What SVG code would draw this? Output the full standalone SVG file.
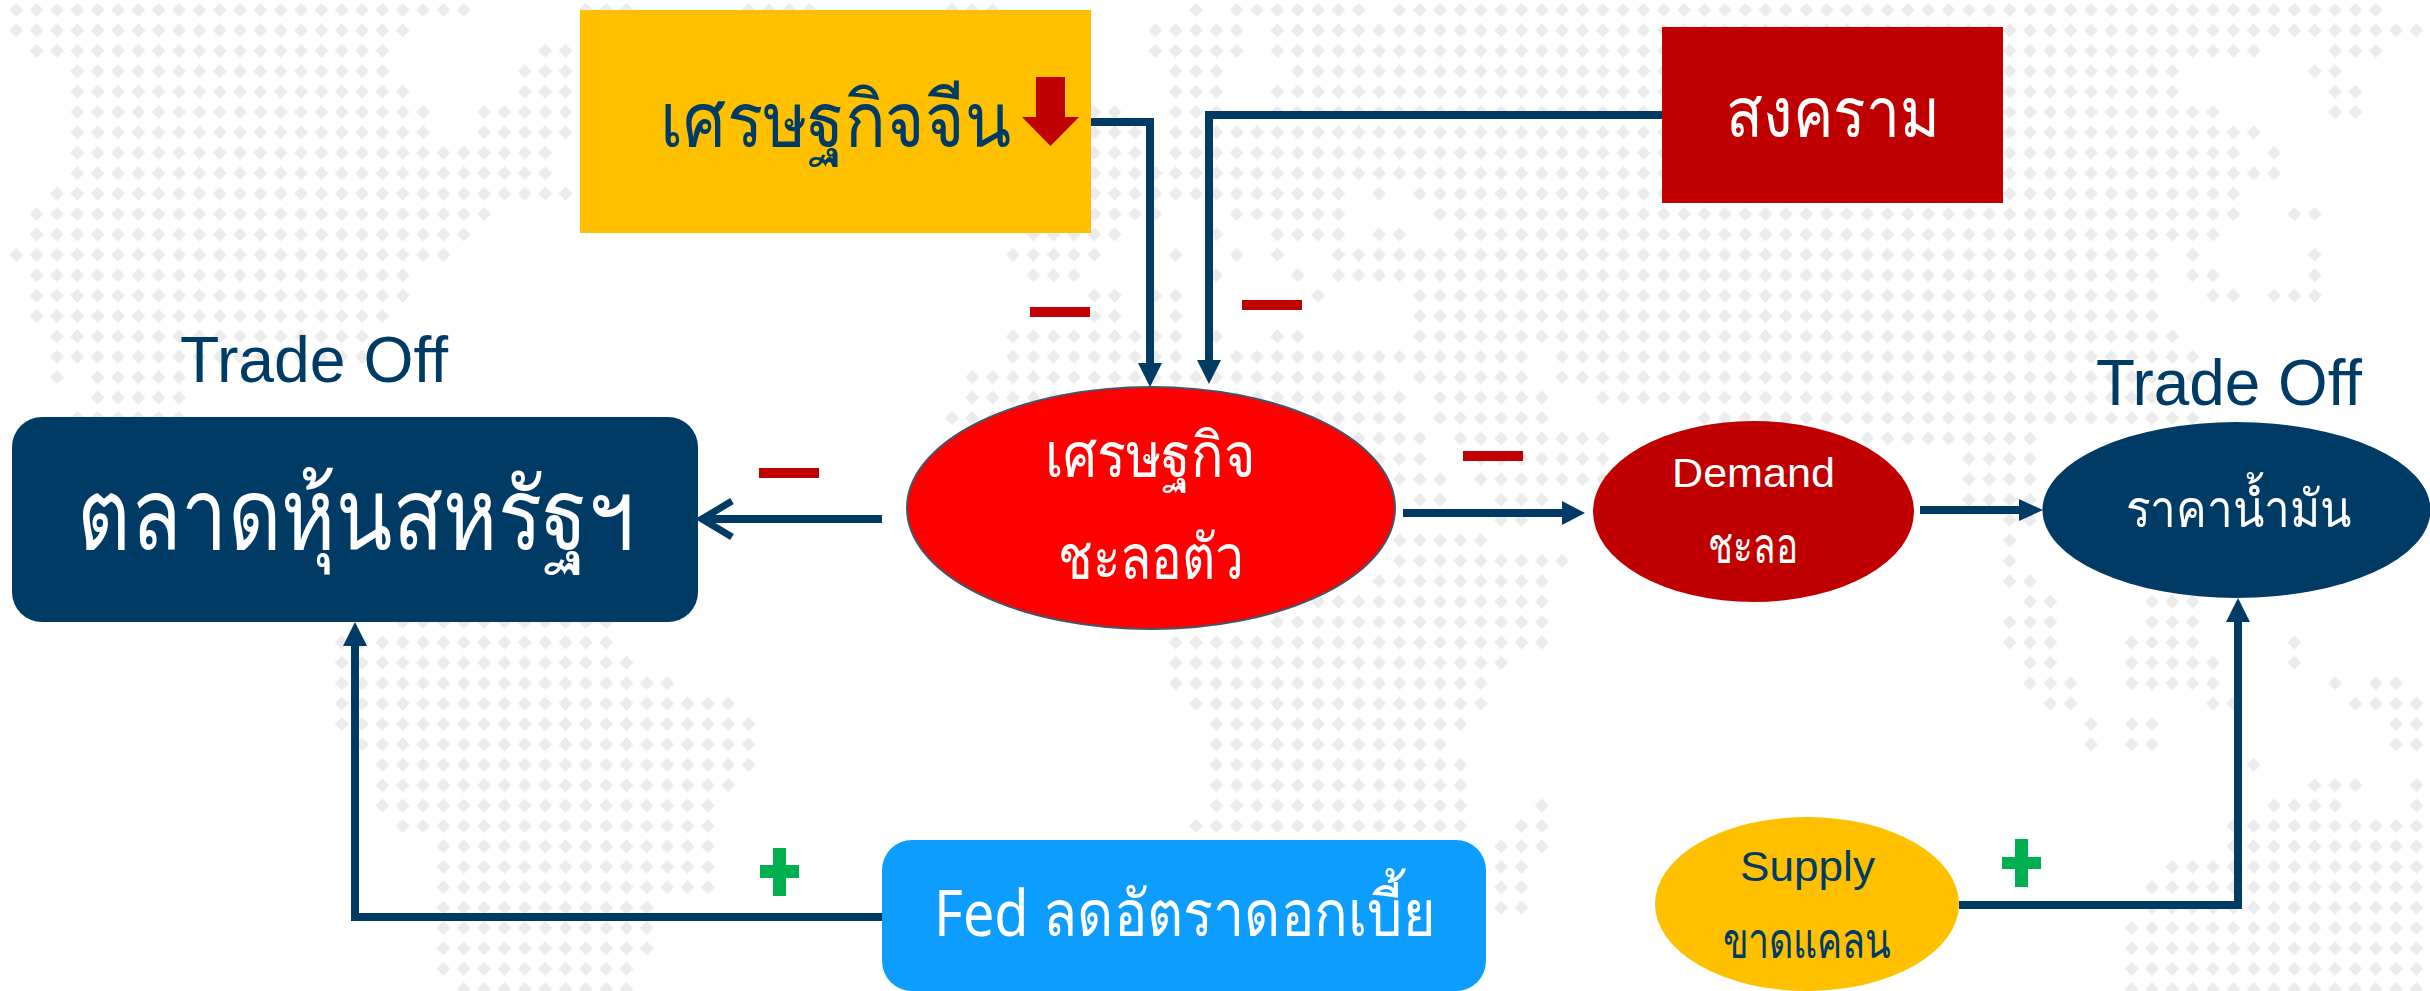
<svg xmlns="http://www.w3.org/2000/svg" width="2430" height="991" viewBox="0 0 2430 991">
<style>
text{font-family:"Noto Sans","Liberation Sans","DejaVu Sans",sans-serif}
.latin{font-family:"Liberation Sans",Arial,sans-serif}
.w{fill:#fff}.n{fill:#003b66}
.c{fill:none;stroke:#003b66;stroke-width:8}
.h{fill:#003b66}
.m{fill:#c00000}.p{fill:#00b050}
</style>
<defs>
<pattern id="dots" patternUnits="userSpaceOnUse" width="1" height="1"><path d="M.5 .16L.84 .5L.5 .84L.16 .5Z" fill="#ebebeb"/></pattern>
</defs>
<rect width="2430" height="991" fill="#fff"/>
<g id="map" transform="translate(6.13 -.2) scale(20.34 20.4)">
<path fill="url(#dots)" d="
M0 0h23v1h-23zM28 0h3v1h-3zM36 0h4v1h-4zM46 0h3v1h-3zM58 0h1v1h-1zM60 0h7v1h-7zM68 0h49v1h-49z
M0 1h20v1h-20zM56 1h5v1h-5zM62 1h57v1h-57z
M1 2h18v1h-18zM26 2h2v1h-2zM56 2h5v1h-5zM62 2h49v1h-49zM114 2h3v1h-3z
M3 3h16v1h-16zM25 3h3v1h-3zM57 3h3v1h-3zM63 3h44v1h-44zM113 3h2v1h-2z
M3 4h17v1h-17zM25 4h3v1h-3zM57 4h3v1h-3zM62 4h45v1h-45zM114 4h2v1h-2z
M3 5h18v1h-18zM23 5h5v1h-5zM53 5h2v1h-2zM57 5h3v1h-3zM62 5h47v1h-47zM114 5h2v1h-2z
M3 6h18v1h-18zM23 6h5v1h-5zM53 6h3v1h-3zM57 6h54v1h-54z
M3 7h24v1h-24zM53 7h3v1h-3zM57 7h53v1h-53zM111 7h1v1h-1z
M3 8h24v1h-24zM53 8h59v1h-59z
M2 9h26v1h-26zM53 9h13v1h-13zM67 9h1v1h-1zM69 9h41v1h-41z
M1 10h23v1h-23zM53 10h4v1h-4zM60 10h6v1h-6zM70 10h40v1h-40zM112 10h2v1h-2z
M1 11h22v1h-22zM50 11h5v1h-5zM59 11h1v1h-1zM62 11h4v1h-4zM67 11h2v1h-2zM71 11h38v1h-38z
M0 12h22v1h-22zM49 12h5v1h-5zM57 12h1v1h-1zM60 12h1v1h-1zM62 12h1v1h-1zM65 12h41v1h-41zM107 12h1v1h-1zM113 12h1v1h-1z
M1 13h19v1h-19zM50 13h3v1h-3zM59 13h1v1h-1zM63 13h1v1h-1zM65 13h41v1h-41zM107 13h2v1h-2zM113 13h1v1h-1z
M1 14h19v1h-19zM53 14h2v1h-2zM56 14h2v1h-2zM64 14h1v1h-1zM69 14h37v1h-37zM108 14h2v1h-2zM111 14h3v1h-3z
M1 15h18v1h-18zM53 15h2v1h-2zM57 15h1v1h-1zM69 15h37v1h-37z
M2 16h16v1h-16zM49 16h9v1h-9zM59 16h1v1h-1zM62 16h2v1h-2zM69 16h38v1h-38z
M2 17h16v1h-16zM49 17h9v1h-9zM60 17h15v1h-15zM76 17h32v1h-32z
M2 18h1v1h-1zM4 18h5v1h-5zM47 18h21v1h-21zM69 18h6v1h-6zM76 18h32v1h-32z
M4 19h5v1h-5zM47 19h5v1h-5zM57 19h12v1h-12zM70 19h6v1h-6zM78 19h28v1h-28z
M3 20h6v1h-6zM46 20h3v1h-3zM64 20h5v1h-5zM70 20h6v1h-6zM83 20h25v1h-25z
M66 21h4v1h-4zM71 21h8v1h-8zM91 21h9v1h-9z
M67 22h3v1h-3zM72 22h7v1h-7zM96 22h4v1h-4z
M67 23h4v1h-4zM72 23h7v1h-7zM96 23h4v1h-4z
M69 24h2v1h-2zM73 24h3v1h-3zM96 24h4v1h-4z
M73 25h2v1h-2zM98 25h2v1h-2z
M68 26h5v1h-5zM98 26h1v1h-1z
M68 27h9v1h-9zM98 27h1v1h-1z
M67 28h9v1h-9zM98 28h2v1h-2z
M64 29h12v1h-12zM99 29h2v1h-2zM105 29h3v1h-3z
M19 30h11v1h-11zM62 30h14v1h-14zM98 30h3v1h-3zM105 30h3v1h-3z
M16 31h14v1h-14zM57 31h19v1h-19zM98 31h3v1h-3zM104 31h4v1h-4zM112 31h1v1h-1z
M16 32h15v1h-15zM57 32h17v1h-17zM99 32h2v1h-2zM104 32h5v1h-5zM112 32h1v1h-1z
M16 33h17v1h-17zM57 33h16v1h-16zM99 33h3v1h-3zM104 33h5v1h-5zM114 33h1v1h-1zM116 33h2v1h-2z
M16 34h20v1h-20zM58 34h15v1h-15zM100 34h2v1h-2zM108 34h2v1h-2zM115 34h4v1h-4z
M16 35h21v1h-21zM59 35h13v1h-13zM102 35h1v1h-1zM104 35h2v1h-2zM117 35h2v1h-2z
M17 36h20v1h-20zM59 36h12v1h-12zM102 36h1v1h-1zM104 36h2v1h-2zM117 36h2v1h-2z
M18 37h19v1h-19zM59 37h13v1h-13zM110 37h1v1h-1z
M18 38h18v1h-18zM59 38h13v1h-13zM113 38h3v1h-3zM118 38h1v1h-1z
M18 39h17v1h-17zM59 39h13v1h-13zM75 39h1v1h-1zM111 39h4v1h-4zM118 39h1v1h-1z
M19 40h16v1h-16zM58 40h14v1h-14zM74 40h2v1h-2zM109 40h10v1h-10z
M21 41h14v1h-14zM73 41h3v1h-3zM109 41h10v1h-10z
M21 42h14v1h-14zM73 42h2v1h-2zM106 42h13v1h-13z
M21 43h14v1h-14zM73 43h2v1h-2zM105 43h14v1h-14z
M21 44h11v1h-11zM73 44h2v1h-2zM105 44h14v1h-14z
M21 45h11v1h-11zM104 45h15v1h-15z
M21 46h11v1h-11zM104 46h15v1h-15z
M21 47h10v1h-10zM104 47h15v1h-15z
M22 48h9v1h-9zM104 48h15v1h-15z"/>
</g>
<g id="connectors">
<path class="c" d="M1091 122H1150V365"/><path class="h" d="M1138 363H1162L1150 387Z"/>
<path class="c" d="M1662 115H1209V362"/><path class="h" d="M1197 360H1221L1209 384Z"/>
<path class="c" d="M882 519H702"/><path d="M732 501L702 519L732 537" fill="none" stroke="#003b66" stroke-width="7"/>
<path class="c" d="M1403 513H1565"/><path class="h" d="M1562 501L1585 513L1562 525Z"/>
<path class="c" d="M1920 510H2022"/><path class="h" d="M2019 499L2043 510L2019 521Z"/>
<path class="c" d="M882 917H355V644"/><path class="h" d="M343 646H367L355 622Z"/>
<path class="c" d="M1959 905H2238V620"/><path class="h" d="M2226 622H2250L2238 598Z"/>
</g>
<g id="n-china"><rect x="580" y="10" width="511" height="223" fill="#ffc000"/>
<text class="n" x="660" y="147" font-size="78" textLength="351" lengthAdjust="spacingAndGlyphs">เศรษฐกิจจีน</text>
<path d="M1036 77H1065V117H1079L1050.5 146L1022 117H1036Z" fill="#c00000"/></g>
<g id="n-war"><rect x="1662" y="27" width="341" height="176" fill="#c00000"/>
<text class="w" x="1726" y="137" font-size="70" textLength="214" lengthAdjust="spacingAndGlyphs">สงคราม</text></g>
<g id="n-us"><rect x="12" y="417" width="686" height="205" rx="30" fill="#003b66"/>
<text class="w" x="77" y="549" font-size="98" textLength="557" lengthAdjust="spacingAndGlyphs">ตลาดหุ้นสหรัฐฯ</text></g>
<g id="n-eco"><ellipse cx="1151" cy="508" rx="244" ry="121" fill="#ff0000" stroke="#44546a" stroke-width="2"/>
<text class="w" x="1045" y="477" font-size="62" textLength="210" lengthAdjust="spacingAndGlyphs">เศรษฐกิจ</text>
<text class="w" x="1058" y="579" font-size="62" textLength="186" lengthAdjust="spacingAndGlyphs">ชะลอตัว</text></g>
<g id="n-demand"><ellipse cx="1753.5" cy="511.5" rx="160.5" ry="90.5" fill="#c00000"/>
<text class="w latin" x="1672" y="487" font-size="40" textLength="163" lengthAdjust="spacingAndGlyphs">Demand</text>
<text class="w" x="1708" y="563" font-size="50" textLength="90" lengthAdjust="spacingAndGlyphs">ชะลอ</text></g>
<g id="n-oil"><ellipse cx="2236.5" cy="510" rx="194" ry="88" fill="#003b66"/>
<text class="w" x="2125.5" y="527" font-size="52" textLength="226.500" lengthAdjust="spacingAndGlyphs">ราคาน้ำมัน</text></g>
<g id="n-fed"><rect x="882" y="840" width="604" height="151" rx="30" fill="#0c9dff"/>
<text class="w" x="934" y="936" font-size="64" textLength="502" lengthAdjust="spacingAndGlyphs">Fed ลดอัตราดอกเบี้ย</text></g>
<g id="n-supply"><ellipse cx="1807" cy="904" rx="152" ry="87" fill="#ffc000"/>
<text class="n latin" x="1740" y="881" font-size="42" textLength="135" lengthAdjust="spacingAndGlyphs">Supply</text>
<text class="n" x="1722.500" y="958" font-size="50" textLength="168.500" lengthAdjust="spacingAndGlyphs">ขาดแคลน</text></g>
<g id="labels">
<text class="n latin" x="180" y="382" font-size="64" textLength="268" lengthAdjust="spacingAndGlyphs">Trade Off</text>
<text class="n latin" x="2096" y="405" font-size="64" textLength="266" lengthAdjust="spacingAndGlyphs">Trade Off</text>
<rect class="m" x="1030" y="307" width="60" height="10"/>
<rect class="m" x="1242" y="300" width="60" height="10"/>
<rect class="m" x="759" y="468" width="60" height="10"/>
<rect class="m" x="1463" y="451" width="60" height="10"/>
<path class="p" d="M773 848h13v17h13v13h-13v18h-13v-18h-13v-13h13z"/>
<path class="p" d="M2015 839h13v18h13v12h-13v18h-13v-18h-13v-12h13z"/>
</g>
</svg>
